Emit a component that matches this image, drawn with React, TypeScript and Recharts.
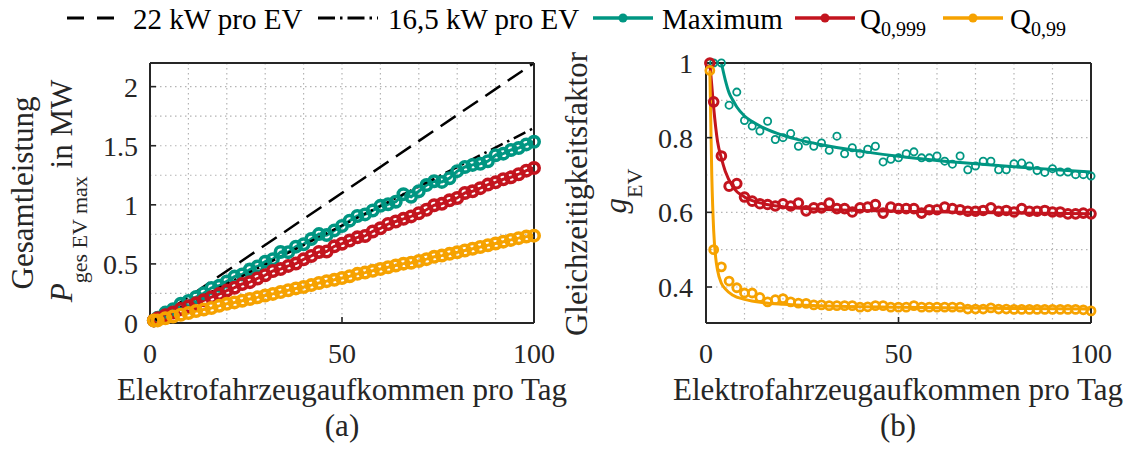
import React from "react";
import { LineChart, Line, XAxis, YAxis, CartesianGrid } from "recharts";

const FONT = "'Liberation Serif', 'Times New Roman', serif";
const INK = "#262626";
const GRID = "#b4b4b4";
const GREEN = "#009682";
const RED = "#c3141e";
const ORANGE = "#f6a200";

// charging power per EV in kW
const RATED_KW = 22;
const REDUCED_KW = 16.5;

// EVs arriving per day
const EV_COUNTS = [
  1, 2, 4, 6, 8, 10, 12, 14, 16, 18, 20, 22, 24, 26, 28, 30, 32, 34, 36, 38, 40,
  42, 44, 46, 48, 50, 52, 54, 56, 58, 60, 62, 64, 66, 68, 70, 72, 74, 76, 78, 80,
  82, 84, 86, 88, 90, 92, 94, 96, 98, 100,
];

// simultaneity factor per EV count
const G_MAX = [
  1.0, 1.0, 1.0, 0.887, 0.922, 0.846, 0.831, 0.818, 0.844, 0.795, 0.8, 0.811,
  0.777, 0.791, 0.777, 0.786, 0.766, 0.804, 0.757, 0.773, 0.757, 0.769, 0.777,
  0.735, 0.742, 0.746, 0.757, 0.762, 0.746, 0.746, 0.751, 0.737, 0.729, 0.751,
  0.714, 0.724, 0.737, 0.737, 0.714, 0.714, 0.73, 0.732, 0.724, 0.712, 0.707,
  0.717, 0.708, 0.708, 0.701, 0.701, 0.697,
];
const G_Q999 = [
  1.0, 0.896, 0.751, 0.67, 0.677, 0.641, 0.63, 0.623, 0.621, 0.617, 0.623, 0.617,
  0.625, 0.604, 0.612, 0.612, 0.625, 0.61, 0.61, 0.601, 0.612, 0.614, 0.621,
  0.598, 0.614, 0.61, 0.61, 0.61, 0.598, 0.607, 0.607, 0.614, 0.61, 0.607, 0.603,
  0.603, 0.605, 0.612, 0.603, 0.605, 0.601, 0.61, 0.603, 0.603, 0.605, 0.601,
  0.601, 0.596, 0.596, 0.598, 0.596,
];
const G_Q99 = [
  0.98, 0.5, 0.454, 0.416, 0.398, 0.384, 0.384, 0.372, 0.36, 0.366, 0.369, 0.36,
  0.357, 0.356, 0.352, 0.352, 0.35, 0.35, 0.35, 0.35, 0.346, 0.347, 0.35, 0.35,
  0.346, 0.346, 0.346, 0.35, 0.346, 0.346, 0.346, 0.346, 0.346, 0.346, 0.341,
  0.341, 0.341, 0.344, 0.341, 0.341, 0.34, 0.34, 0.34, 0.34, 0.34, 0.34, 0.34,
  0.34, 0.34, 0.339, 0.336,
];

// fitted curves
const FIT_MAX_N = [4, 5, 6, 7, 8, 10, 12, 15, 20, 25, 30, 40, 50, 60, 70, 80, 90, 100];
const FIT_MAX_G = [
  1.0, 0.955, 0.92, 0.9, 0.882, 0.858, 0.843, 0.826, 0.806, 0.792, 0.781, 0.764,
  0.75, 0.739, 0.73, 0.722, 0.715, 0.708,
];
const FIT_Q999_N = [1, 1.5, 2, 3, 4, 5, 7, 10, 15, 20, 30, 50, 75, 100];
const FIT_Q999_G = [
  1.0, 0.94, 0.88, 0.79, 0.745, 0.71, 0.668, 0.641, 0.623, 0.615, 0.608, 0.603,
  0.599, 0.596,
];
const FIT_Q99_N = [1, 1.5, 2, 2.5, 3, 4, 5, 7, 10, 15, 20, 30, 50, 75, 100];
const FIT_Q99_G = [
  0.98, 0.7, 0.55, 0.48, 0.445, 0.41, 0.395, 0.378, 0.367, 0.358, 0.354, 0.35,
  0.346, 0.343, 0.341,
];

const N_RANGE = [0, 100];
const N_TICKS = [0, 50, 100];
const N_GRID = [10, 20, 30, 40, 50, 60, 70, 80, 90];
const P_TICKS = [0, 0.5, 1, 1.5, 2];
const P_GRID = [0.25, 0.5, 0.75, 1, 1.25, 1.5, 1.75, 2];
const G_TICKS = [0.4, 0.6, 0.8, 1];
const G_GRID = [0.4, 0.5, 0.6, 0.7, 0.8, 0.9];

const P_DOMAIN: [number, number] = [0, 2.2];
const G_DOMAIN: [number, number] = [0.3036, 1];

type Pt = { n: number; v: number };

const zipPts = (ns: number[], vs: number[]): Pt[] => ns.map((n, i) => ({ n, v: vs[i] }));
// total power in MW = n * 22 kW * g
const toPower = (gs: number[]): Pt[] =>
  EV_COUNTS.map((n, i) => ({ n, v: (n * RATED_KW * gs[i]) / 1000 }));
const ratedLine = (kw: number): Pt[] => N_RANGE.map((n) => ({ n, v: (n * kw) / 1000 }));

const tickStyle = { fill: INK, fontSize: 28, fontFamily: FONT };
const axisLine = { stroke: INK, strokeWidth: 2 };
const tickLine = { stroke: INK, strokeWidth: 1.6 };
const blank = () => "";

// boxed axes with inward ticks; the axes are 1px thick so recharts still draws them
function axes(yDomain: [number, number], yTicks: number[], yMargin: number) {
  return [
    <XAxis
      key="xb"
      type="number"
      dataKey="n"
      domain={N_RANGE}
      ticks={N_TICKS}
      height={1}
      tickSize={-6}
      tickMargin={26}
      tick={tickStyle}
      axisLine={axisLine}
      tickLine={tickLine}
    />,
    <XAxis
      key="xt"
      xAxisId="top"
      orientation="top"
      type="number"
      dataKey="n"
      domain={N_RANGE}
      ticks={N_TICKS}
      height={1}
      tickSize={-6}
      tickFormatter={blank}
      axisLine={axisLine}
      tickLine={tickLine}
    />,
    <YAxis
      key="yl"
      type="number"
      domain={yDomain}
      ticks={yTicks}
      width={1}
      tickSize={-6}
      tickMargin={yMargin}
      tick={tickStyle}
      axisLine={axisLine}
      tickLine={tickLine}
    />,
    <YAxis
      key="yr"
      yAxisId="right"
      orientation="right"
      type="number"
      domain={yDomain}
      ticks={yTicks}
      width={1}
      tickSize={-6}
      tickFormatter={blank}
      axisLine={axisLine}
      tickLine={tickLine}
    />,
  ];
}

function PowerChart() {
  const ring = (c: string) => ({ r: 5.2, stroke: c, strokeWidth: 3.6, fill: "none" });
  return (
    <LineChart width={568} height={450} margin={{ top: 62, right: 33, bottom: 126, left: 149 }}>
      <CartesianGrid
        horizontalValues={P_GRID}
        verticalValues={N_GRID}
        stroke={GRID}
        strokeWidth={1.2}
        strokeDasharray="1.5 3.5"
      />
      {axes(P_DOMAIN, P_TICKS, 18)}
      <Line data={toPower(G_MAX)} dataKey="v" stroke={GREEN} strokeWidth={3} dot={ring(GREEN)} activeDot={false} isAnimationActive={false} />
      <Line data={toPower(G_Q999)} dataKey="v" stroke={RED} strokeWidth={3} dot={ring(RED)} activeDot={false} isAnimationActive={false} />
      <Line data={toPower(G_Q99)} dataKey="v" stroke={ORANGE} strokeWidth={3} dot={ring(ORANGE)} activeDot={false} isAnimationActive={false} />
      <Line data={ratedLine(RATED_KW)} dataKey="v" stroke="#000" strokeWidth={2.5} strokeDasharray="18 9" dot={false} activeDot={false} isAnimationActive={false} />
      <Line data={ratedLine(REDUCED_KW)} dataKey="v" stroke="#000" strokeWidth={2.5} strokeDasharray="13 5 2.5 5" dot={false} activeDot={false} isAnimationActive={false} />
    </LineChart>
  );
}

function FactorChart() {
  const series = [
    { g: G_MAX, fn: FIT_MAX_N, fg: FIT_MAX_G, c: GREEN, r: 3.6, w: 1.8 },
    { g: G_Q999, fn: FIT_Q999_N, fg: FIT_Q999_G, c: RED, r: 4.3, w: 3 },
    { g: G_Q99, fn: FIT_Q99_N, fg: FIT_Q99_G, c: ORANGE, r: 4, w: 2.8 },
  ];
  return (
    <LineChart width={568} height={450} margin={{ top: 62, right: 44, bottom: 126, left: 137 }}>
      <CartesianGrid
        horizontalValues={G_GRID}
        verticalValues={N_GRID}
        stroke={GRID}
        strokeWidth={1.2}
        strokeDasharray="1.5 3.5"
      />
      {axes(G_DOMAIN, G_TICKS, 19)}
      {series.flatMap((s, i) => [
        <Line
          key={`pts${i}`}
          data={zipPts(EV_COUNTS, s.g)}
          dataKey="v"
          stroke="none"
          dot={{ r: s.r, stroke: s.c, strokeWidth: s.w, fill: "none" }}
          activeDot={false}
          isAnimationActive={false}
        />,
        <Line
          key={`fit${i}`}
          data={zipPts(s.fn, s.fg)}
          dataKey="v"
          type="monotone"
          stroke={s.c}
          strokeWidth={3}
          dot={false}
          activeDot={false}
          isAnimationActive={false}
        />,
      ])}
    </LineChart>
  );
}

function Legend() {
  const y = 18;
  const base = 29;
  return (
    <g fontFamily={FONT} fontSize={29} fill="#000">
      <line x1={67} x2={118} y1={y} y2={y} stroke="#000" strokeWidth={3} strokeDasharray="17 13" />
      <text x={133} y={base}>22 kW pro EV</text>
      <line x1={318} x2={378} y1={y} y2={y} stroke="#000" strokeWidth={3} strokeDasharray="17 5 2.5 5" />
      <text x={388} y={base}>16,5 kW pro EV</text>
      <line x1={593} x2={653} y1={y} y2={y} stroke={GREEN} strokeWidth={3.5} />
      <circle cx={623} cy={y} r={4.5} fill={GREEN} />
      <text x={662} y={base}>Maximum</text>
      <line x1={795} x2={855} y1={y} y2={y} stroke={RED} strokeWidth={3.5} />
      <circle cx={825} cy={y} r={4.5} fill={RED} />
      <text x={860} y={base}>
        Q<tspan fontSize={20} dy={7}>0,999</tspan>
      </text>
      <line x1={943} x2={1003} y1={y} y2={y} stroke={ORANGE} strokeWidth={3.5} />
      <circle cx={973} cy={y} r={4.5} fill={ORANGE} />
      <text x={1010} y={base}>
        Q<tspan fontSize={20} dy={7}>0,99</tspan>
      </text>
    </g>
  );
}

function Titles() {
  return (
    <g fontFamily={FONT} fontSize={31} fill={INK} textAnchor="middle">
      <text transform="translate(33,193) rotate(-90)">Gesamtleistung</text>
      <text transform="translate(72,191) rotate(-90)">
        <tspan fontStyle="italic">P</tspan>
        <tspan fontSize={22} dy={15}>ges EV max</tspan>
        <tspan dy={-15}>{" in MW"}</tspan>
      </text>
      <text transform="translate(587,194) rotate(-90)">Gleichzeitigkeitsfaktor</text>
      <text transform="translate(626,191) rotate(-90)">
        <tspan fontStyle="italic">g</tspan>
        <tspan fontSize={22} dy={16}>EV</tspan>
      </text>
      <text x={342} y={400}>Elektrofahrzeugaufkommen pro Tag</text>
      <text x={898} y={400}>Elektrofahrzeugaufkommen pro Tag</text>
      <text x={342} y={436}>(a)</text>
      <text x={898} y={436}>(b)</text>
    </g>
  );
}

export default function App() {
  return (
    <div style={{ position: "absolute", left: 0, top: 0, width: 1136, height: 450, background: "#fff" }}>
      <div style={{ position: "absolute", left: 0, top: 0 }}>
        <PowerChart />
      </div>
      <div style={{ position: "absolute", left: 568, top: 0 }}>
        <FactorChart />
      </div>
      <svg
        width={1136}
        height={450}
        style={{ position: "absolute", left: 0, top: 0, pointerEvents: "none" }}
      >
        <Legend />
        <Titles />
      </svg>
    </div>
  );
}
